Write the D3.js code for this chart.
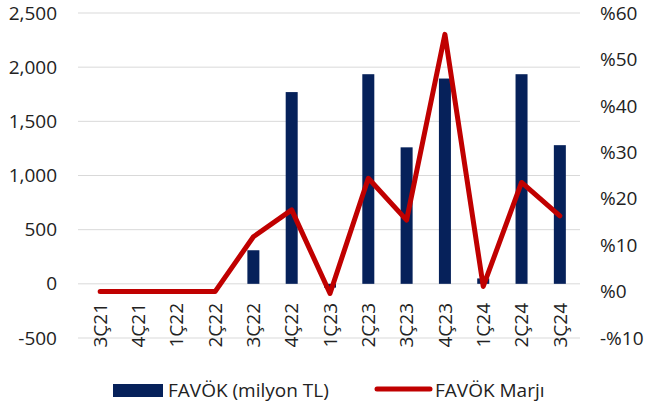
<!DOCTYPE html>
<html>
<head>
<meta charset="utf-8">
<script src="https://cdn.jsdelivr.net/npm/d3@7"></script>
<style>
  body { margin: 0; background: #fff; }
  svg { font-family: "Open Sans", "Noto Sans", sans-serif; }
</style>
</head>
<body>
<script>
const width = 650,
  height = 410;

const quarters = ["3Ç21", "4Ç21", "1Ç22", "2Ç22", "3Ç22", "4Ç22", "1Ç23", "2Ç23", "3Ç23", "4Ç23", "1Ç24", "2Ç24", "3Ç24"];
const favok = [0, 0, 0, 0, 310, 1770, -35, 1935, 1260, 1895, 50, 1935, 1280];
const margin = [0, 0, 0, 0, 11.8, 17.6, -0.4, 24.4, 15.4, 55.4, 1.1, 23.5, 16.3];
const leftTicks = [-500, 0, 500, 1000, 1500, 2000, 2500];
const rightTicks = [-10, 0, 10, 20, 30, 40, 50, 60];

const plot = { left: 81, right: 579, top: 13, bottom: 338 };
const barColor = "#06215a",
  lineColor = "#c00000";

const svg = d3
  .select("body")
  .append("svg")
  .attr("width", width)
  .attr("height", height);

const xScale = d3
  .scaleBand()
  .domain(quarters)
  .range([plot.left, plot.right]);

const yLeft = d3.scaleLinear().domain([-500, 2500]).range([plot.bottom, plot.top]);
const yRight = d3.scaleLinear().domain([-10, 60]).range([plot.bottom, plot.top]);

// gridlines
svg
  .append("g")
  .selectAll("line")
  .data(leftTicks)
  .enter()
  .append("line")
  .attr("x1", plot.left - 3)
  .attr("x2", plot.right + 1)
  .attr("y1", (d) => yLeft(d))
  .attr("y2", (d) => yLeft(d))
  .attr("stroke", "#d9d9d9")
  .attr("stroke-width", 1);

// left axis labels (plain hyphen for negatives)
const fmt = d3.formatLocale({ decimal: ".", thousands: ",", grouping: [3], currency: ["", ""], minus: "-" }).format(",");
svg
  .append("g")
  .selectAll("text")
  .data(leftTicks)
  .enter()
  .append("text")
  .attr("x", 57)
  .attr("y", (d) => yLeft(d))
  .attr("dy", "0.35em")
  .attr("text-anchor", "end")
  .attr("font-size", 19)
  .attr("fill", "#222")
  .text((d) => fmt(d));

// right axis labels
svg
  .append("g")
  .selectAll("text")
  .data(rightTicks)
  .enter()
  .append("text")
  .attr("x", 600)
  .attr("y", (d) => yRight(d))
  .attr("dy", "0.35em")
  .attr("font-size", 19)
  .attr("fill", "#222")
  .text((d) => (d < 0 ? "-%" + Math.abs(d) : "%" + d));

// bars
const barW = 12;
svg
  .append("g")
  .selectAll("rect")
  .data(favok)
  .enter()
  .append("rect")
  .attr("x", (d, i) => xScale(quarters[i]) + xScale.bandwidth() / 2 - barW / 2)
  .attr("y", (d) => yLeft(Math.max(d, 0)))
  .attr("width", barW)
  .attr("height", (d) => Math.abs(yLeft(d) - yLeft(0)))
  .attr("fill", barColor);

// margin line
const line = d3
  .line()
  .x((d, i) => xScale(quarters[i]) + xScale.bandwidth() / 2)
  .y((d) => yRight(d));

svg
  .append("path")
  .datum(margin)
  .attr("d", line)
  .attr("fill", "none")
  .attr("stroke", lineColor)
  .attr("stroke-width", 5)
  .attr("stroke-linejoin", "round")
  .attr("stroke-linecap", "round");

// category labels
svg
  .append("g")
  .selectAll("text")
  .data(quarters)
  .enter()
  .append("text")
  .attr("transform", (d) => `translate(${xScale(d) + xScale.bandwidth() / 2},303) rotate(-90)`)
  .attr("dy", "0.35em")
  .attr("text-anchor", "end")
  .attr("font-size", 19)
  .attr("fill", "#222")
  .text((d) => d);

// legend
const legend = svg.append("g").attr("id", "legend");
legend
  .append("rect")
  .attr("x", 113)
  .attr("y", 384)
  .attr("width", 50)
  .attr("height", 13)
  .attr("fill", barColor);
legend
  .append("text")
  .attr("x", 168)
  .attr("y", 390)
  .attr("dy", "0.35em")
  .attr("font-size", 19)
  .attr("fill", "#222")
  .text("FAVÖK (milyon TL)");
legend
  .append("line")
  .attr("x1", 377)
  .attr("x2", 430)
  .attr("y1", 389)
  .attr("y2", 389)
  .attr("stroke", lineColor)
  .attr("stroke-width", 5)
  .attr("stroke-linecap", "round");
legend
  .append("text")
  .attr("x", 435)
  .attr("y", 390)
  .attr("dy", "0.35em")
  .attr("font-size", 19)
  .attr("fill", "#222")
  .text("FAVÖK Marjı");
</script>
</body>
</html>
